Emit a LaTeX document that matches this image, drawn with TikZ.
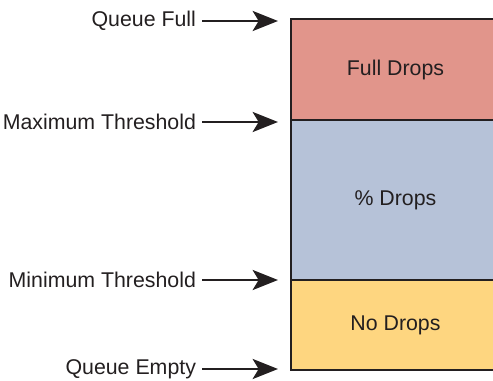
\documentclass[tikz,border=0pt]{standalone}
\usepackage{fontspec}
\setmainfont{Liberation Sans}
\usetikzlibrary{arrows.meta,positioning}
\definecolor{fullred}{HTML}{E1958B}
\definecolor{dropblue}{HTML}{B6C2D8}
\definecolor{noyellow}{HTML}{FED680}
\definecolor{edgegray}{HTML}{231F20}
\tikzset{
  band/.style={draw=edgegray,line width=2pt,rectangle,minimum width=156.75pt,inner sep=0pt,outer sep=0pt,text=edgegray,font=\fontsize{16}{19}\selectfont},
  level/.style={anchor=east,inner sep=0pt,outer sep=4.5pt,text=edgegray,font=\fontsize{16}{19}\selectfont},
  pointer/.style={-{Stealth[length=19pt 0,width=15pt 0,inset=4.5pt 0]},line width=2pt,edgegray}
}

\begin{document}
\begin{tikzpicture}[x=0.75pt,y=-0.75pt]
\useasboundingbox (0,0) rectangle (493,381);

\node[band,fill=fullred,minimum height=75.75pt,anchor=north west] (full) at (291,19) {Full Drops};
\node[band,fill=dropblue,minimum height=120pt,below=0pt of full] (pct) {\% Drops};
\node[band,fill=noyellow,minimum height=67.5pt,below=0pt of pct] (none) {No Drops};

\node[level] (qfull) at (202,21) {Queue Full};
\node[level] (maxth) at (202,122) {Maximum Threshold};
\node[level] (minth) at (202,280) {Minimum Threshold};
\node[level] (qempty) at (202,369) {Queue Empty};

\coordinate (qfulltip) at (278,21);
\coordinate (maxtip) at (278,122);
\coordinate (mintip) at (278,280);
\coordinate (qemptytip) at (278,369);

\draw[pointer] (qfull.east) -- (qfulltip);
\draw[pointer] (maxth.east) -- (maxtip);
\draw[pointer] (minth.east) -- (mintip);
\draw[pointer] (qempty.east) -- (qemptytip);

\end{tikzpicture}
\end{document}
